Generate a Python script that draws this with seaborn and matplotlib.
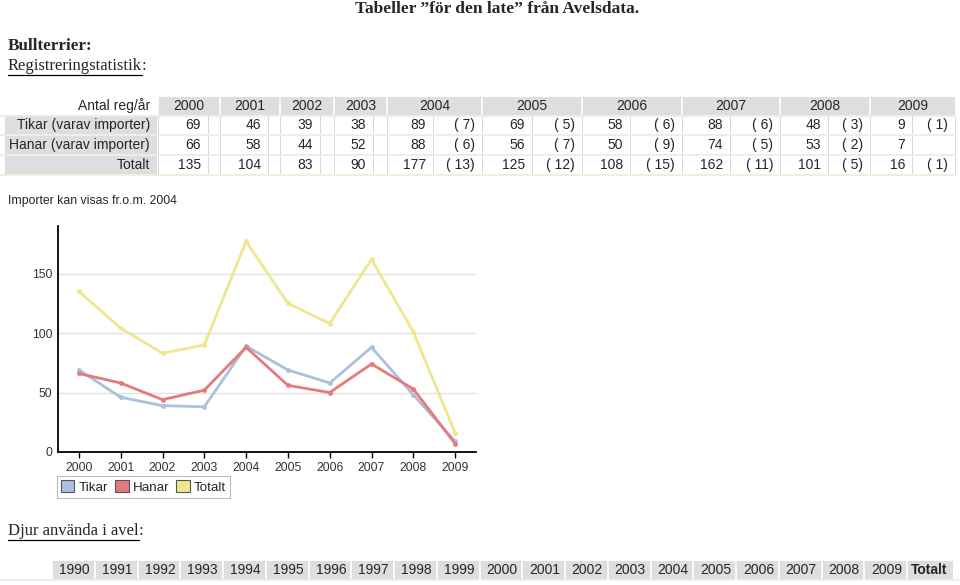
import matplotlib
matplotlib.use("Agg")
import matplotlib.pyplot as plt
from matplotlib.patches import Rectangle, Patch
import seaborn as sns
import pandas as pd

# =========================
# Data
# =========================
years = [2000, 2001, 2002, 2003, 2004, 2005, 2006, 2007, 2008, 2009]
tikar = [69, 46, 39, 38, 89, 69, 58, 88, 48, 9]
hanar = [66, 58, 44, 52, 88, 56, 50, 74, 53, 7]
totalt = [135, 104, 83, 90, 177, 125, 108, 162, 101, 16]
tikar_imp = [None, None, None, None, 7, 5, 6, 6, 3, 1]
hanar_imp = [None, None, None, None, 6, 7, 9, 5, 2, None]
totalt_imp = [None, None, None, None, 13, 12, 15, 11, 5, 1]

row_labels = ["Tikar (varav importer)", "Hanar (varav importer)", "Totalt"]
series_names = ["Tikar", "Hanar", "Totalt"]
series_colors = ["#abc0dc", "#e57a7a", "#efe68e"]

avel_years = [str(y) for y in range(1990, 2010)] + ["Totalt"]

# =========================
# Figure
# =========================
sns.set_theme(style="white")
plt.rcParams["font.family"] = ["Liberation Sans", "DejaVu Sans"]

W, H = 960, 585
fig = plt.figure(figsize=(W / 100, H / 100), dpi=100)
bg = fig.add_axes([0, 0, 1, 1])
bg.set_xlim(0, W)
bg.set_ylim(H, 0)
bg.axis("off")

serif = ["Liberation Serif", "DejaVu Serif"]


def underline(t):
    fig.canvas.draw()
    bb = t.get_window_extent()
    inv = bg.transData.inverted()
    (x0, y0), (x1, y1) = inv.transform([(bb.x0, bb.y0), (bb.x1, bb.y0)])
    bg.plot([x0, x1], [y0 + 1, y1 + 1], color="black", lw=0.9)


# titles
bg.text(497, 9, "Tabeller \u201dför den late\u201d från Avelsdata.", family=serif,
        fontsize=12.5, fontweight="bold", ha="center", va="center")
bg.text(8, 46, "Bullterrier:", family=serif, fontsize=12.3, fontweight="bold",
        ha="left", va="center")
t = bg.text(8, 66, "Registreringstatistik", family=serif, fontsize=12,
            ha="left", va="center")
underline(t)
bg.text(t.get_window_extent().x1 * W / fig.bbox.width, 66, ":", family=serif,
        fontsize=12, ha="left", va="center")

# =========================
# Registration table
# =========================
gray = "#dedede"
green = "#e3f2d6"
sepc = "#d8d8d8"
col_edges = [158, 220, 280, 334, 387, 482, 582, 682, 780, 870, 955]
seps = [208, 268, 320, 373, 433, 532, 630, 730, 828, 912]
row_y = [125, 145, 165]
fs = 10

# header
bg.add_patch(Rectangle((col_edges[0], 97), col_edges[-1] - col_edges[0], 18,
                       color=gray, lw=0))
bg.text(150, 106, "Antal reg/år", fontsize=fs, ha="right", va="center")
for i, y in enumerate(years):
    bg.plot([col_edges[i], col_edges[i]], [97, 115], color="white", lw=1.2)
    bg.text((col_edges[i] + col_edges[i + 1]) / 2, 106, str(y), fontsize=fs,
            ha="center", va="center")
bg.plot([0, col_edges[-1]], [116, 116], color=green, lw=1.2)

values = [tikar, hanar, totalt]
imports = [tikar_imp, hanar_imp, totalt_imp]
for r, yc in enumerate(row_y):
    bg.add_patch(Rectangle((5, yc - 9), 152, 18, color=gray, lw=0))
    bg.text(150, yc, row_labels[r], fontsize=fs, ha="right", va="center")
    for i in range(len(years)):
        bg.plot([col_edges[i], col_edges[i]], [yc - 9, yc + 9], color=sepc, lw=0.7)
        bg.plot([seps[i], seps[i]], [yc - 9, yc + 9], color=sepc, lw=0.7)
        bg.text(seps[i] - 7, yc, str(values[r][i]), fontsize=fs,
                ha="right", va="center")
        if imports[r][i] is not None:
            bg.text(col_edges[i + 1] - 7, yc, "( %d)" % imports[r][i],
                    fontsize=fs, ha="right", va="center")
    bg.plot([col_edges[-1], col_edges[-1]], [yc - 9, yc + 9], color=sepc, lw=0.7)
    bg.plot([0, col_edges[-1]], [yc + 10, yc + 10], color=green, lw=1.2)

bg.text(8, 201, "Importer kan visas fr.o.m. 2004", fontsize=8.8, ha="left",
        va="center")

# =========================
# Line chart
# =========================
ax = fig.add_axes([58 / W, 1 - 452 / H, 418 / W, 226 / H])
df = pd.DataFrame({
    "year": years * 3,
    "antal": tikar + hanar + totalt,
    "serie": ["Tikar"] * 10 + ["Hanar"] * 10 + ["Totalt"] * 10,
})
sns.lineplot(data=df, x="year", y="antal", hue="serie", hue_order=series_names,
             palette=series_colors, marker="o", markersize=3.5,
             markeredgewidth=0, linewidth=2, legend=False, ax=ax)
ax.set_xlim(1999.5, 2009.5)
ax.set_ylim(0, 190)
ax.set_xticks(years)
ax.set_yticks([0, 50, 100, 150])
ax.tick_params(axis="both", labelsize=8.8, colors="#333333")
ax.tick_params(axis="x", length=4, width=1, direction="out", color="black",
               bottom=True)
ax.tick_params(axis="y", length=0, pad=4)
ax.set_xlabel("")
ax.set_ylabel("")
ax.yaxis.grid(True, color="#e2e2e2", lw=1)
ax.set_axisbelow(True)
for s in ["top", "right"]:
    ax.spines[s].set_visible(False)
for s in ["left", "bottom"]:
    ax.spines[s].set_color("black")
    ax.spines[s].set_linewidth(1.3)

handles = [Patch(facecolor=c, edgecolor="#555555", lw=0.8, label=n)
           for n, c in zip(series_names, series_colors)]
leg = fig.legend(handles=handles, loc="upper left",
                 bbox_to_anchor=(57 / W, 1 - 476 / H), ncol=3, fontsize=9.6,
                 frameon=True, fancybox=False, handlelength=1.0,
                 handleheight=1.0, handletextpad=0.3, columnspacing=0.55,
                 borderpad=0.3, borderaxespad=0)
leg.get_frame().set_edgecolor("#aaaaaa")
leg.get_frame().set_linewidth(0.8)

# =========================
# Avel table
# =========================
t2 = bg.text(8, 531, "Djur använda i avel", family=serif, fontsize=12,
             ha="left", va="center")
underline(t2)
bg.text(t2.get_window_extent().x1 * W / fig.bbox.width, 531, ":", family=serif,
        fontsize=12, ha="left", va="center")

x0, cw = 52, 42.75
bg.add_patch(Rectangle((x0, 561), cw * len(avel_years) + 3, 18, color=gray, lw=0))
for i, lab in enumerate(avel_years):
    xl = x0 + i * cw
    bg.plot([xl, xl], [561, 579], color="white", lw=1.2)
    bg.text(xl + cw / 2 + 1, 570.5, lab, fontsize=fs, ha="center", va="center",
            fontweight="bold" if lab == "Totalt" else "normal")
bg.plot([0, W], [580, 580], color=green, lw=1.2)

plt.savefig("out.png", dpi=100)
plt.close()
